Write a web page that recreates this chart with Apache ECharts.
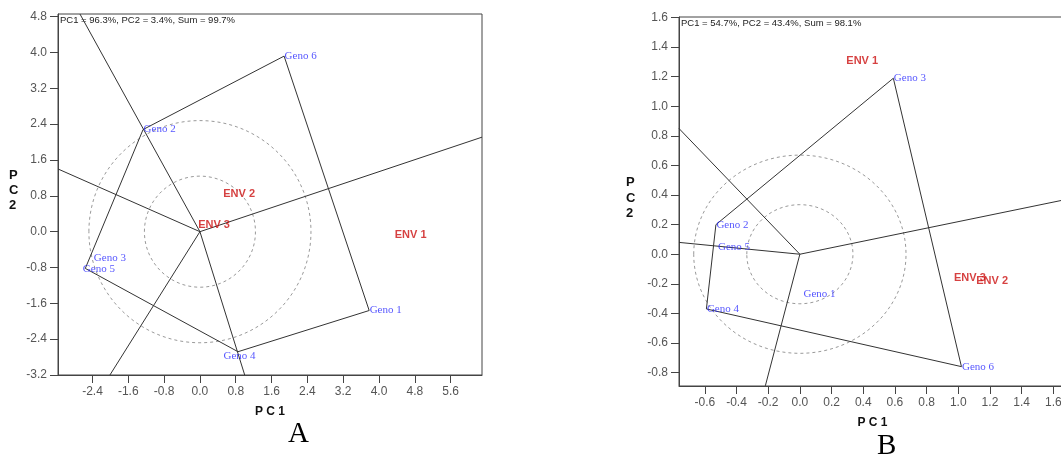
<!DOCTYPE html>
<html>
<head>
<meta charset="utf-8">
<script src="https://cdn.jsdelivr.net/npm/echarts@6/dist/echarts.min.js"></script>
<style>
html,body{margin:0;padding:0;background:#fff;}
#chart{width:1061px;height:457px;}
</style>
</head>
<body>
<div id="chart"></div>
<script>
// ---------- Data ----------
const genoNames = ['Geno 1', 'Geno 2', 'Geno 3', 'Geno 4', 'Geno 5', 'Geno 6'];
const envNames = ['ENV 1', 'ENV 2', 'ENV 3'];

// Panel A
const genoA_pc1 = [3.78, -1.27, -2.38, 0.85, -2.56, 1.88];
const genoA_pc2 = [-1.76, 2.28, -0.59, -2.68, -0.82, 3.92];
const envA_pc1 = [4.34, 0.51, -0.05];
const envA_pc2 = [-0.07, 0.84, 0.15];
const hullA = ['Geno 6', 'Geno 2', 'Geno 5', 'Geno 4', 'Geno 1', 'Geno 6'];
const raysA_pc1 = [-2.68, 6.30, -3.17, -2.01, 1.00];
const raysA_pc2 = [4.86, 2.11, 1.40, -3.20, -3.20];
const circlesA_r = [1.24, 2.48];
const ticksA_x = [-2.4, -1.6, -0.8, 0.0, 0.8, 1.6, 2.4, 3.2, 4.0, 4.8, 5.6];
const ticksA_y = [-3.2, -2.4, -1.6, -0.8, 0.0, 0.8, 1.6, 2.4, 3.2, 4.0, 4.8];
const infoA = 'PC1 = 96.3%, PC2 = 3.4%, Sum = 99.7%';

// Panel B
const genoB_pc1 = [0.02, -0.53, 0.59, -0.59, -0.52, 1.02];
const genoB_pc2 = [-0.27, 0.20, 1.19, -0.37, 0.05, -0.76];
const envB_pc1 = [0.29, 1.11, 0.97];
const envB_pc2 = [1.31, -0.18, -0.16];
const hullB = ['Geno 3', 'Geno 6', 'Geno 4', 'Geno 2', 'Geno 3'];
const raysB_pc1 = [-0.763, -0.763, -0.218, 1.68];
const raysB_pc2 = [0.85, 0.08, -0.89, 0.37];
const circlesB_r = [0.335, 0.67];
const ticksB_x = [-0.6, -0.4, -0.2, 0.0, 0.2, 0.4, 0.6, 0.8, 1.0, 1.2, 1.4, 1.6];
const ticksB_y = [-0.8, -0.6, -0.4, -0.2, 0.0, 0.2, 0.4, 0.6, 0.8, 1.0, 1.2, 1.4, 1.6];
const infoB = 'PC1 = 54.7%, PC2 = 43.4%, Sum = 98.1%';

// ---------- Styles ----------
const labelOffsets = {
  A: {'Geno 4': [-15, 4], 'Geno 5': [-3, 1]},
  B: {}
};
const axisColor = '#444';
const tickLabelColor = '#555';
const lineColor = '#333';
const genoColor = '#2b2bff';
const envColor = '#cc1111';

function makeXAxis(idx, min, max, ticks) {
  return {
    type: 'value', gridIndex: idx, min: min, max: max,
    name: 'P C 1', nameLocation: 'middle', nameGap: 31,
    nameTextStyle: {fontFamily: 'Liberation Sans', fontWeight: 'bold', fontSize: 12, color: '#111'},
    axisLine: {show: true, onZero: false, lineStyle: {color: axisColor, width: 1}},
    axisTick: {show: true, length: 8, inside: false, customValues: ticks, lineStyle: {color: axisColor}},
    axisLabel: {customValues: ticks, margin: 11, color: tickLabelColor, fontSize: 12, fontFamily: 'Liberation Sans',
      formatter: v => v.toFixed(1), hideOverlap: false},
    splitLine: {show: false}
  };
}
function makeYAxis(idx, min, max, ticks) {
  return {
    type: 'value', gridIndex: idx, min: min, max: max,
    axisLine: {show: true, onZero: false, lineStyle: {color: axisColor, width: 1}},
    axisTick: {show: true, length: 8, inside: false, customValues: ticks, lineStyle: {color: axisColor}},
    axisLabel: {customValues: ticks, margin: 11, color: tickLabelColor, fontSize: 12, fontFamily: 'Liberation Sans',
      formatter: v => v.toFixed(1)},
    splitLine: {show: false}
  };
}

function circleSeries(idx, radii) {
  return {
    type: 'custom', xAxisIndex: idx, yAxisIndex: idx, clip: true, silent: true, z: 1,
    encode: {x: 0, y: 1},
    data: radii.map(r => [0, 0, r]),
    renderItem: function (params, api) {
      const c = api.coord([api.value(0), api.value(1)]);
      const s = api.size([api.value(2), api.value(2)]);
      return {
        type: 'ellipse',
        shape: {cx: c[0], cy: c[1], rx: s[0], ry: s[1]},
        style: {fill: 'none', stroke: '#9a9a9a', lineWidth: 1, lineDash: [3, 3]}
      };
    }
  };
}

function hullSeries(idx, order, names, pc1, pc2) {
  return {
    type: 'line', xAxisIndex: idx, yAxisIndex: idx, symbol: 'none', silent: true, z: 2,
    lineStyle: {color: lineColor, width: 1},
    data: order.map(n => { const i = names.indexOf(n); return [pc1[i], pc2[i]]; })
  };
}

function raySeries(idx, ex, ey) {
  return ex.map((x, i) => ({
    type: 'line', xAxisIndex: idx, yAxisIndex: idx, symbol: 'none', silent: true, z: 2, clip: true,
    lineStyle: {color: lineColor, width: 1},
    data: [[0, 0], [x, ey[i]]]
  }));
}

function labelSeries(idx, names, pc1, pc2, style, offsets) {
  return {
    type: 'scatter', xAxisIndex: idx, yAxisIndex: idx, symbol: 'circle', symbolSize: 1, z: 5, silent: true,
    itemStyle: {color: 'rgba(0,0,0,0)'},
    data: names.map((n, i) => ({
      name: n, value: [pc1[i], pc2[i]],
      label: {offset: (offsets && offsets[n]) || [0, 0]}
    })),
    label: Object.assign({show: true, position: 'right', distance: 0, formatter: p => p.name}, style)
  };
}

const genoLabelStyle = {color: genoColor, fontFamily: 'Liberation Serif', fontSize: 11};
const envLabelStyle = {color: envColor, fontFamily: 'Liberation Sans', fontWeight: 'bold', fontSize: 11};

const chart = echarts.init(document.getElementById('chart'), null, {renderer: 'canvas'});
chart.setOption({
  animation: false,
  backgroundColor: '#fff',
  grid: [
    {left: 58, top: 14, width: 424, height: 361, show: true, borderColor: axisColor, borderWidth: 1,
      backgroundColor: 'transparent', containLabel: false, outerBoundsMode: 'none'},
    {left: 679, top: 17, width: 387, height: 369, show: true, borderColor: axisColor, borderWidth: 1,
      backgroundColor: 'transparent', containLabel: false, outerBoundsMode: 'none'}
  ],
  xAxis: [
    makeXAxis(0, -3.17, 6.3, ticksA_x),
    makeXAxis(1, -0.763, 1.68, ticksB_x)
  ],
  yAxis: [
    makeYAxis(0, -3.2, 4.86, ticksA_y),
    makeYAxis(1, -0.891, 1.604, ticksB_y)
  ],
  graphic: [
    {type: 'text', left: 9, top: 168, style: {text: 'P\nC\n2', font: 'bold 13px "Liberation Sans"', fill: '#111', lineHeight: 15}},
    {type: 'text', left: 626, top: 175, style: {text: 'P\nC\n2', font: 'bold 13px "Liberation Sans"', fill: '#111', lineHeight: 15.5}},
    {type: 'text', left: 60, top: 15, style: {text: infoA, font: '9.5px "Liberation Sans"', fill: '#222'}},
    {type: 'text', left: 681, top: 18, style: {text: infoB, font: '9.5px "Liberation Sans"', fill: '#222'}},
    {type: 'text', left: 288, top: 420, style: {text: 'A', font: '29px "Liberation Serif"', fill: '#000'}},
    {type: 'text', left: 877, top: 432, style: {text: 'B', font: '29px "Liberation Serif"', fill: '#000'}}
  ],
  series: [
    circleSeries(0, circlesA_r),
    hullSeries(0, hullA, genoNames, genoA_pc1, genoA_pc2),
    ...raySeries(0, raysA_pc1, raysA_pc2),
    labelSeries(0, genoNames, genoA_pc1, genoA_pc2, genoLabelStyle, labelOffsets.A),
    labelSeries(0, envNames, envA_pc1, envA_pc2, envLabelStyle, null),
    circleSeries(1, circlesB_r),
    hullSeries(1, hullB, genoNames, genoB_pc1, genoB_pc2),
    ...raySeries(1, raysB_pc1, raysB_pc2),
    labelSeries(1, genoNames, genoB_pc1, genoB_pc2, genoLabelStyle, labelOffsets.B),
    labelSeries(1, envNames, envB_pc1, envB_pc2, envLabelStyle, null)
  ]
});
</script>
</body>
</html>
